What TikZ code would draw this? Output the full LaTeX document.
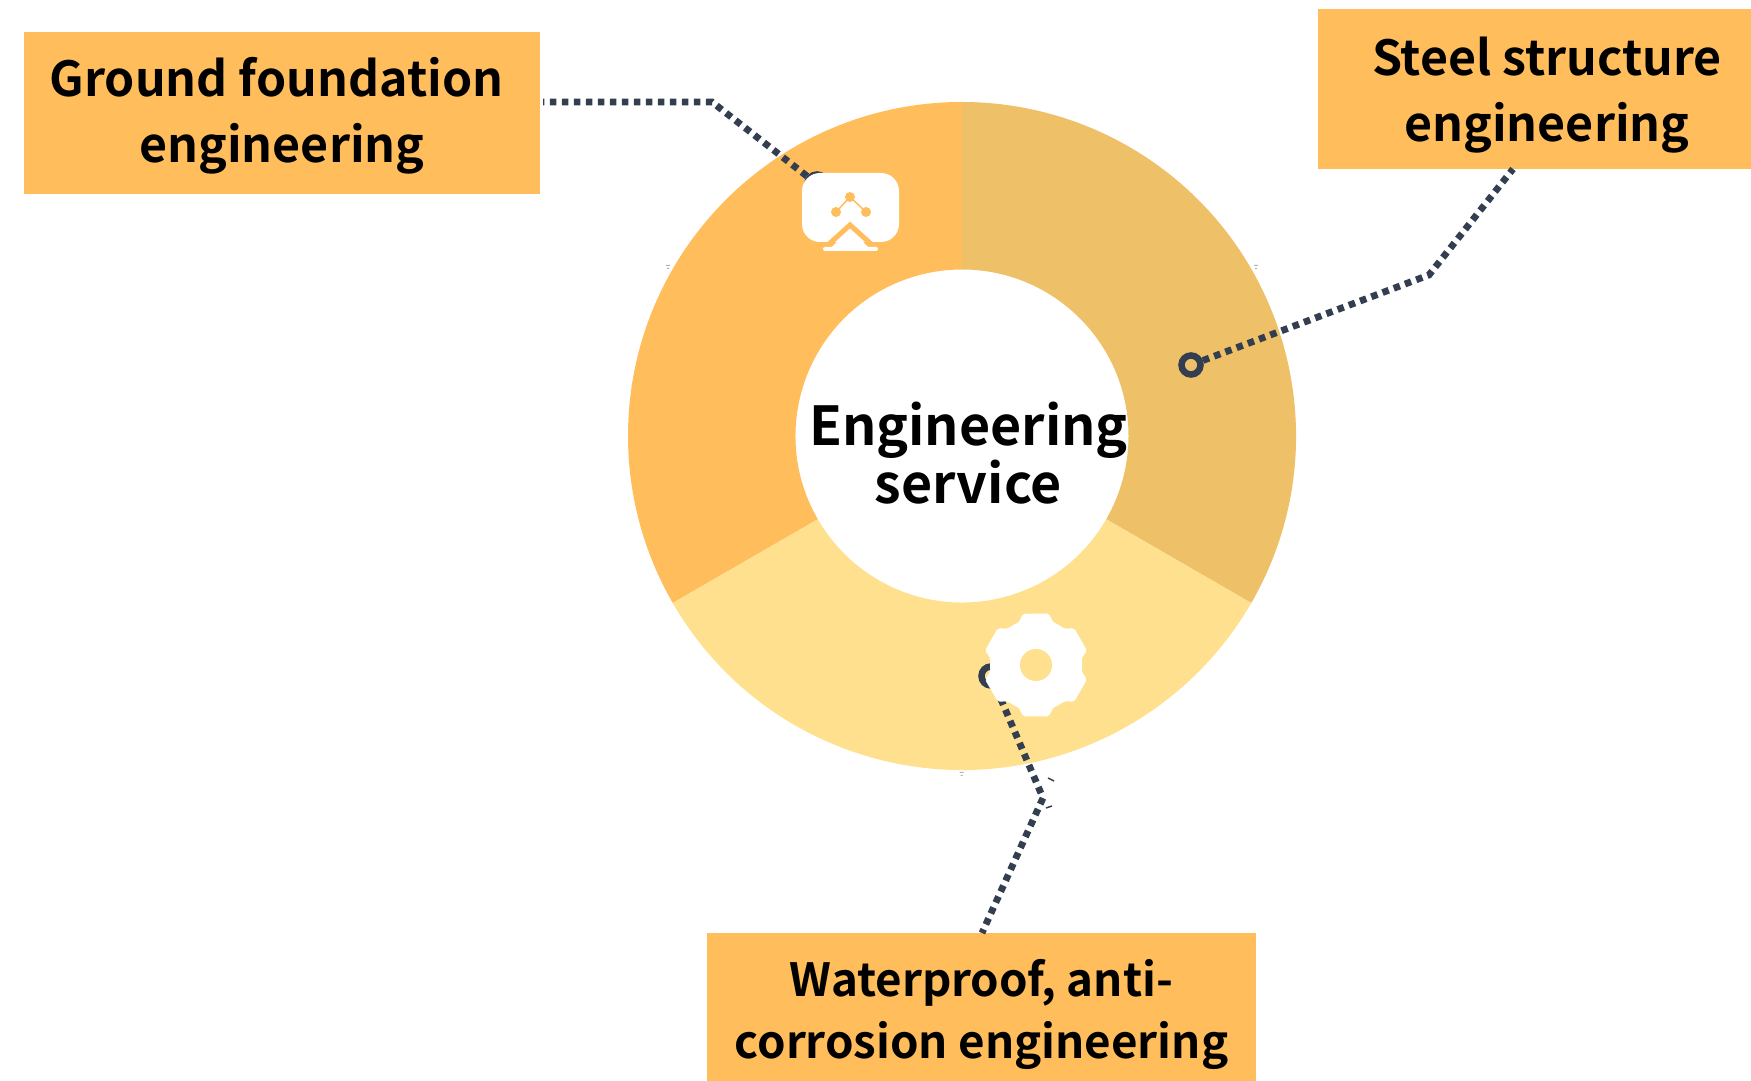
\documentclass[tikz,border=0pt]{standalone}
\usepackage{fontspec}
\setmainfont{Noto Sans CJK SC}[BoldFont={Noto Sans CJK SC Bold}]
\usetikzlibrary{positioning}
\definecolor{orangeA}{HTML}{FFBD5C}
\definecolor{orangeB}{HTML}{EEC068}
\definecolor{orangeC}{HTML}{FFE08E}
\definecolor{wirecol}{HTML}{333F50}

\begin{document}
\begin{tikzpicture}[x=1pt,y=1pt,
    wire/.style={draw=wirecol,line width=6.8pt,dash pattern=on 6.6pt off 5.4pt},
    ring/.style={circle,draw=wirecol,line width=6.5pt,minimum size=19pt,inner sep=0pt},
    infobox/.style={fill=orangeA,inner sep=0pt},
    boxtext/.style={font=\bfseries\fontsize{48.3}{66}\selectfont,align=center,text=black}]
      \useasboundingbox (0,0) rectangle (1751,1081);
      \foreach \from/\to/\col in {90/210/orangeA,-30/90/orangeB,210/330/orangeC}
        \fill[\col,shift={(962,645)}] (\from:334) arc (\from:\to:334)
          -- (\to:166.5) arc (\to:\from:166.5) -- cycle;
      \foreach \x/\y in {668/815,1256/815,961.5/308}
        \fill[gray!60] (\x-2,\y) rectangle (\x+2,\y+1) (\x-1,\y-3) rectangle (\x+1,\y-2);
      \node[ring] (R1) at (817,897) {};
      \node[ring] (R2) at (1191,716) {};
      \node[ring] (R3) at (991,405) {};
      \coordinate (B1) at (712,979);
      \coordinate (B2) at (1429,806);
      \coordinate (B3) at (1043,283);
      \node[infobox,minimum width=516pt,minimum height=162pt] (ground) at (282,968) {};
      \node[infobox,minimum width=433pt,minimum height=160pt] (steel) at (1534.5,992) {};
      \node[infobox,minimum width=549pt,minimum height=148pt] (water) at (981.5,74) {};
      \draw[wire] (R1) -- (B1) -- ([xshift=3pt]ground.east |- B1);
      \draw[wire] (R2) -- (B2) -- (1513,912);
      \draw[wire] (R3) -- (B3) -- (982,148);
      \draw[wirecol,line width=1.5pt] (1048,303) -- (1054,300) (1046,273) -- (1052,275);
      \node[boxtext] (groundtext) at (282,965.5) {Ground foundation\hspace*{11pt}\\engineering};
      \node[boxtext] (steeltext) at (1547,985.6) {Steel structure\\engineering};
      \node[boxtext,font=\bfseries\fontsize{45.7}{62}\selectfont] (watertext) at (981.5,66) {Waterproof, anti-\\corrosion engineering};
      \node[boxtext,font=\bfseries\fontsize{53.7}{58}\selectfont] (engtext) at (968.5,628) {Engineering\\service};
      \fill[white,rounded corners=18pt] (802,839) rectangle (899,908);
      \draw[orangeA,line width=1.5pt] (836,869) -- (850,884) -- (866,869);
      \fill[orangeA] (850,884) circle (5) (836,869) circle (5) (866,869) circle (5);
      \draw[orangeA,line width=5pt] (829,837) -- (850,856) -- (871,837);
      \fill[white] (850,852) -- (832,834) -- (868,834) -- cycle;
      \fill[white,rounded corners=2pt] (823,830) rectangle (878,834);
      \fill[white,rounded corners=2pt,shift={(1036,416)}]
        \foreach \a in {30,90,...,330} {
          (\a-14:53) -- (\a+14:53) -- (\a+22:46) -- (\a+38:46) -- (\a+46:53) -- (\a+74:53) -- (\a+82:46) -- (\a+98:46) -- cycle
        } (0:46) arc (0:360:46);
      \fill[orangeC] (1036,416) circle (16);
    \end{tikzpicture}
\end{document}
